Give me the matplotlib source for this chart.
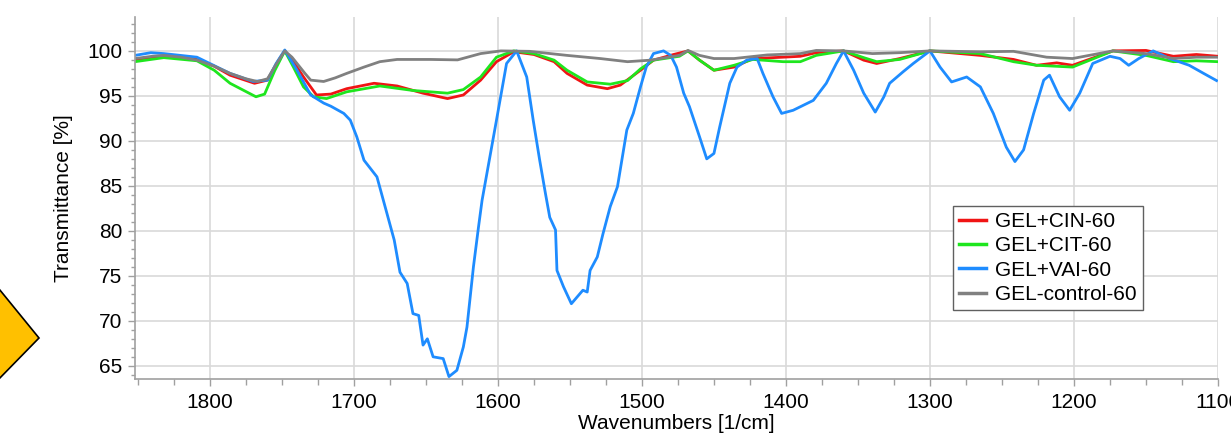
import numpy as np
import matplotlib.pyplot as plt
from matplotlib.patches import Polygon

plt.rcParams['font.family'] = ['Liberation Sans', 'DejaVu Sans']

# GEL-control-60
wn_gray = [1852, 1840, 1832, 1820, 1809, 1797, 1786, 1775, 1767, 1760, 1754, 1748, 1743, 1739.5, 1734, 1730,
           1721, 1713, 1705, 1693, 1682, 1670, 1647, 1628, 1612, 1598, 1578, 1552, 1529, 1510, 1494, 1474,
           1468, 1460, 1450, 1436, 1413, 1390, 1379, 1360, 1340, 1321, 1300, 1265, 1242, 1219, 1201, 1173,
           1150, 1131, 1115, 1100]
t_gray = [99.15, 99.4, 99.5, 99.3, 98.97, 98.3, 97.5, 96.9, 96.6, 96.9, 98.5, 100, 99.3, 98.6, 97.5, 96.75,
          96.6, 97.0, 97.5, 98.2, 98.8, 99.05, 99.05, 99.0, 99.7, 100, 99.95, 99.5, 99.15, 98.8, 98.97, 99.5,
          100.05, 99.5, 99.15, 99.15, 99.55, 99.7, 100.05, 100, 99.7, 99.8, 100, 99.9, 99.95, 99.3, 99.15, 100,
          99.7, 99.15, 99.3, 99.3]

# GEL+CIN-60
wn_red = [1852, 1832, 1809, 1797, 1786, 1769, 1760, 1754, 1748, 1742, 1735, 1726, 1716, 1705, 1686, 1670,
          1652, 1635, 1624, 1612, 1601, 1589, 1575, 1561, 1552, 1538, 1524, 1515, 1501, 1492, 1478, 1468,
          1460, 1450, 1436, 1423, 1402, 1390, 1379, 1360, 1346, 1337, 1321, 1300, 1265, 1242, 1226, 1212,
          1201, 1173, 1150, 1131, 1115, 1100]
t_red = [98.97, 99.4, 99.05, 98.3, 97.3, 96.4, 96.75, 98.5, 100, 98.8, 97.1, 95.1, 95.2, 95.8, 96.4, 96.1,
         95.3, 94.7, 95.1, 96.75, 98.8, 99.9, 99.6, 98.8, 97.5, 96.2, 95.8, 96.2, 97.85, 98.97, 99.6, 100,
         98.97, 97.85, 98.2, 99.15, 99.3, 99.4, 99.8, 100, 98.97, 98.6, 99.15, 100, 99.5, 99.05, 98.4, 98.67,
         98.4, 100, 100.05, 99.4, 99.6, 99.4]

# GEL+CIT-60
wn_green = [1852, 1832, 1809, 1797, 1786, 1768, 1762, 1755, 1748, 1742, 1735, 1728, 1719, 1705, 1682, 1659,
            1635, 1624, 1612, 1601, 1589, 1575, 1561, 1552, 1538, 1522, 1510, 1501, 1492, 1474, 1468, 1460,
            1450, 1436, 1423, 1402, 1390, 1379, 1360, 1346, 1337, 1321, 1300, 1265, 1242, 1226, 1201, 1173,
            1150, 1131, 1115, 1100]
t_green = [98.8, 99.25, 98.9, 97.85, 96.4, 94.9, 95.2, 97.8, 100, 98.2, 96.0, 94.9, 94.7, 95.45, 96.1, 95.6,
           95.3, 95.7, 97.1, 99.3, 100, 99.7, 98.97, 97.85, 96.55, 96.3, 96.7, 98.0, 98.97, 99.4, 100, 98.97,
           97.85, 98.4, 99.05, 98.8, 98.8, 99.5, 100, 99.25, 98.8, 99.05, 100, 99.7, 98.8, 98.4, 98.2, 100,
           99.5, 98.8, 98.9, 98.8]

# GEL+VAI-60
wn_blue = [1852, 1841, 1832, 1809, 1786, 1770, 1760, 1754, 1748, 1739.5, 1730, 1721, 1716, 1707, 1702.5, 1698,
           1693, 1684, 1677, 1672, 1668, 1663, 1659, 1655, 1652, 1649, 1645, 1638, 1634, 1628.5, 1624, 1621.5,
           1617, 1613.5, 1611, 1601, 1594, 1587, 1580, 1575.5, 1571, 1567, 1564, 1560, 1559, 1554.5, 1549,
           1541, 1538, 1536, 1531, 1527, 1522, 1517, 1510.5, 1506, 1501, 1497, 1492, 1485, 1480, 1476, 1471,
           1467, 1460, 1455, 1450, 1446, 1439, 1434, 1427, 1420, 1416, 1409, 1403, 1395, 1381, 1372, 1365,
           1360, 1353, 1346, 1338, 1332, 1328, 1318.5, 1311.6, 1300, 1293, 1285, 1274.5, 1265, 1256, 1247,
           1241, 1235, 1228, 1221, 1217, 1210, 1203, 1196, 1187, 1175, 1168, 1162, 1155, 1145, 1133.5, 1120,
           1110, 1101]
t_blue = [99.5, 99.8, 99.7, 99.3, 97.5, 96.6, 96.75, 98.6, 100.1, 97.85, 95.1, 94.2, 93.85, 93.05, 92.3, 90.45,
          87.85, 86.0, 81.9, 78.97, 75.4, 74.15, 70.8, 70.6, 67.3, 68.0, 66.0, 65.8, 63.8, 64.5, 67.1, 69.3,
          76.0, 80.4, 83.4, 92.3, 98.6, 100, 97.1, 92.3, 87.85, 84.15, 81.5, 80.1, 75.6, 73.8, 71.9,
          73.4, 73.2, 75.6, 77.1, 79.7, 82.7, 84.9, 91.2, 93.05, 96.0, 98.2, 99.7, 100.0, 99.5, 98.2, 95.3,
          93.8, 90.45, 88.0, 88.6, 91.55, 96.4, 98.2, 99.0, 99.15, 97.5, 94.9, 93.05, 93.4, 94.5, 96.4, 98.6,
          100, 97.85, 95.3, 93.2, 94.9, 96.4, 97.7, 98.6, 100, 98.2, 96.55, 97.1, 96.0, 93.05, 89.3,
          87.7, 89.0, 93.05, 96.75, 97.3, 94.9, 93.4, 95.3, 98.6, 99.4, 99.15, 98.4, 99.15, 100, 99.15, 98.4,
          97.5, 96.7]

W, H = 1231, 433
fs = 15
fig = plt.figure(figsize=(W / 100, H / 100), dpi=100)
ax = fig.add_axes([135 / W, 1 - 379.3 / H, (1218 - 135) / W, (379.3 - 16.7) / H])

lw = 2.0
ax.plot(wn_red, t_red, color='#f01414', lw=lw, label='GEL+CIN-60')
ax.plot(wn_green, t_green, color='#1ee61e', lw=lw, label='GEL+CIT-60')
ax.plot(wn_blue, t_blue, color='#1e8cff', lw=lw, label='GEL+VAI-60')
ax.plot(wn_gray, t_gray, color='#808080', lw=lw, label='GEL-control-60')

ax.set_xlim(1852, 1100)
ax.set_ylim(63.5, 103.8)
ax.set_xticks(np.arange(1800, 1099, -100))
ax.set_xticks(np.arange(1850, 1099, -25), minor=True)
ax.set_yticks(np.arange(65, 101, 5))
ax.set_yticks(np.arange(64, 104, 1), minor=True)
ax.grid(True, which='major', color='#d9d9d9', lw=1.2)
ax.set_axisbelow(True)

for s in ['top', 'right']:
    ax.spines[s].set_visible(False)
for s in ['left', 'bottom']:
    ax.spines[s].set_color('#a0a0a0')
    ax.spines[s].set_linewidth(1.2)
ax.tick_params(which='both', direction='out', color='#a0a0a0', length=5, width=1)
ax.tick_params(axis='x', which='major', labelsize=fs, pad=5)
ax.tick_params(axis='y', which='major', labelsize=fs, pad=4)
ax.tick_params(axis='y', which='minor', length=3)
ax.tick_params(axis='x', which='minor', length=4)

ax.set_xlabel('Wavenumbers [1/cm]', fontsize=fs, labelpad=1)
ax.set_ylabel('Transmittance [%]', fontsize=fs, labelpad=10)

leg = ax.legend(loc='upper left', bbox_to_anchor=(952.7 / W, 1 - 206 / H), bbox_transform=fig.transFigure,
                borderaxespad=0, fontsize=fs, fancybox=False, framealpha=1, edgecolor='#606060',
                handlelength=1.3, handletextpad=0.45, labelspacing=0.25, borderpad=0.3, shadow=False)
leg.get_frame().set_linewidth(1.0)
for line in leg.get_lines():
    line.set_linewidth(2.5)

# yellow arrow at left edge
arrow = Polygon([(-5 / W, 1 - 284 / H), (39 / W, 1 - 338 / H), (-5 / W, 1 - 383 / H)],
                closed=True, transform=fig.transFigure, facecolor='#ffc000', edgecolor='black', lw=1.2)
fig.patches.append(arrow)

fig.savefig('out.png', dpi=100)
